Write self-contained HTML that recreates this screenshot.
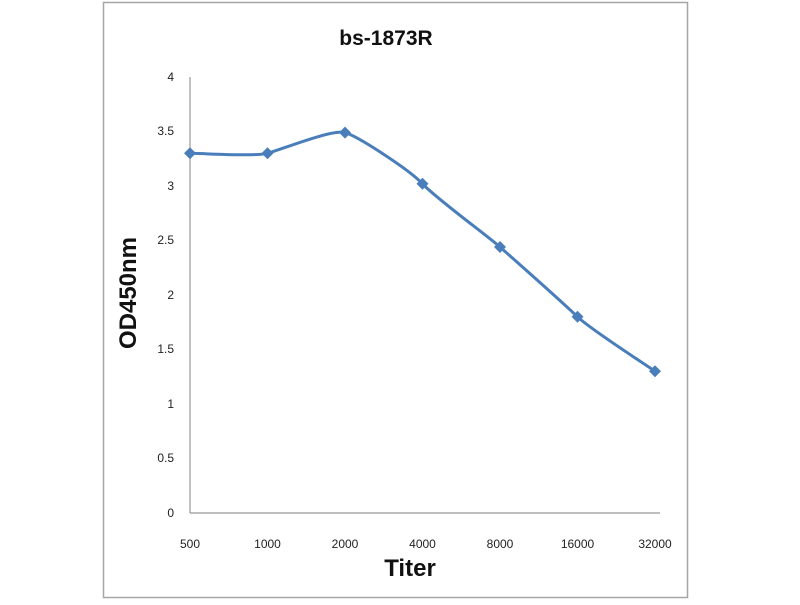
<!DOCTYPE html>
<html><head><style>
body{margin:0;background:#fff;}
svg text{font-family:"Liberation Sans",Arial,sans-serif;}
</style></head><body>
<svg width="800" height="600" viewBox="0 0 800 600" xmlns="http://www.w3.org/2000/svg">
<rect x="0" y="0" width="800" height="600" fill="#fff"/>
<rect x="103.5" y="2.5" width="584" height="595" fill="none" stroke="#a6a6a6" stroke-width="1.5"/>
<text x="386" y="45" font-size="21" font-weight="bold" text-anchor="middle" fill="#111">bs-1873R</text>
<line x1="190" y1="77" x2="190" y2="513" stroke="#999" stroke-width="1.2"/>
<line x1="190" y1="513" x2="660" y2="513" stroke="#999" stroke-width="1.2"/>
<g font-size="12" fill="#222" text-anchor="end">
<text x="174" y="517">0</text>
<text x="174" y="462">0.5</text>
<text x="174" y="408">1</text>
<text x="174" y="353">1.5</text>
<text x="174" y="299">2</text>
<text x="174" y="244">2.5</text>
<text x="174" y="190">3</text>
<text x="174" y="135">3.5</text>
<text x="174" y="81">4</text>
</g>
<g font-size="12" fill="#222" text-anchor="middle">
<text x="190" y="548">500</text>
<text x="267.5" y="548">1000</text>
<text x="345" y="548">2000</text>
<text x="422.5" y="548">4000</text>
<text x="500" y="548">8000</text>
<text x="577.5" y="548">16000</text>
<text x="655" y="548">32000</text>
</g>
<text x="410" y="576" font-size="24" font-weight="bold" text-anchor="middle" fill="#111">Titer</text>
<text transform="translate(136,293) rotate(-90)" font-size="24" font-weight="bold" text-anchor="middle" fill="#111">OD450nm</text>
<path d="M190,153.3 C202.9,153.3 254.6,156.7 267.5,153.3 C280.4,149.9 332.1,128.9 345,132.6 C357.9,136.3 409.6,169.8 422.5,183.8 C435.4,197.8 487.1,235.6 500,247 C512.9,258.4 564.6,304.4 577.5,316.8 C590.4,329.2 642.1,362.2 655,371.3" fill="none" stroke="#4a7ebb" stroke-width="3"/>
<g fill="#4a7ebb">
<path d="M190,147.3 l6,6 l-6,6 l-6,-6z"/>
<path d="M267.5,147.3 l6,6 l-6,6 l-6,-6z"/>
<path d="M345,126.6 l6,6 l-6,6 l-6,-6z"/>
<path d="M422.5,177.8 l6,6 l-6,6 l-6,-6z"/>
<path d="M500,241 l6,6 l-6,6 l-6,-6z"/>
<path d="M577.5,310.8 l6,6 l-6,6 l-6,-6z"/>
<path d="M655,365.3 l6,6 l-6,6 l-6,-6z"/>
</g>
</svg>
</body></html>
